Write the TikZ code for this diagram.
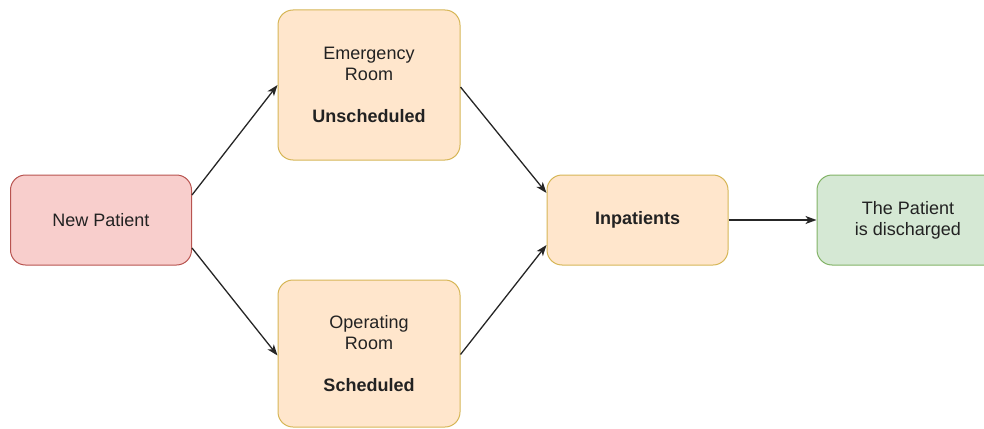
\documentclass[tikz,border=0pt]{standalone}
\usepackage{fontspec}
\setmainfont{Liberation Sans}
\usetikzlibrary{arrows.meta}
\definecolor{redfill}{HTML}{F8CECC}
\definecolor{redline}{HTML}{B85450}
\definecolor{orfill}{HTML}{FFE6CC}
\definecolor{orline}{HTML}{D6B656}
\definecolor{grfill}{HTML}{D5E8D4}
\definecolor{grline}{HTML}{82B366}
\definecolor{txt}{HTML}{222222}
\tikzset{
  box/.style={draw, line width=1pt, rounded corners=15pt, align=center, text=txt,
    font=\fontsize{18}{21}\selectfont, inner sep=0pt},
  redbox/.style={box, fill=redfill, draw=redline},
  orbox/.style={box, fill=orfill, draw=orline},
  grbox/.style={box, fill=grfill, draw=grline},
  conn/.style={line width=1.3pt, draw=black!85, -{Stealth[length=11pt,width=8pt,inset=3pt]}}
}
\begin{document}
\begin{tikzpicture}[x=1pt,y=1pt]
\useasboundingbox (0,0) rectangle (984,-428);
\clip (0,0) rectangle (984,-428);
\node[redbox, minimum width=181pt, minimum height=90pt] (np) at (101,-220) {New Patient};
\node[orbox, minimum width=182pt, minimum height=150pt] (er) at (369,-85) {Emergency\\Room\\[21pt]\textbf{Unscheduled}};
\node[orbox, minimum width=182pt, minimum height=147pt] (or) at (369,-353.5) {Operating\\Room\\[21pt]\textbf{Scheduled}};
\node[orbox, minimum width=181pt, minimum height=90pt] (inp) at (637.5,-220) {\textbf{Inpatients}};
\node[grbox, minimum width=182pt, minimum height=90pt] (dis) at (908,-220) {The Patient\\is discharged};
\draw[conn] ([yshift=25pt]np.east) -- (er.west);
\draw[conn] ([yshift=-28pt]np.east) -- ([yshift=-2pt]or.west);
\draw[conn] ([yshift=-2pt]er.east) -- ([yshift=27pt]inp.west);
\draw[conn] ([yshift=-1pt]or.east) -- ([yshift=-25pt]inp.west);
\draw[conn] (inp.east) -- (dis.west);
\end{tikzpicture}
\end{document}
